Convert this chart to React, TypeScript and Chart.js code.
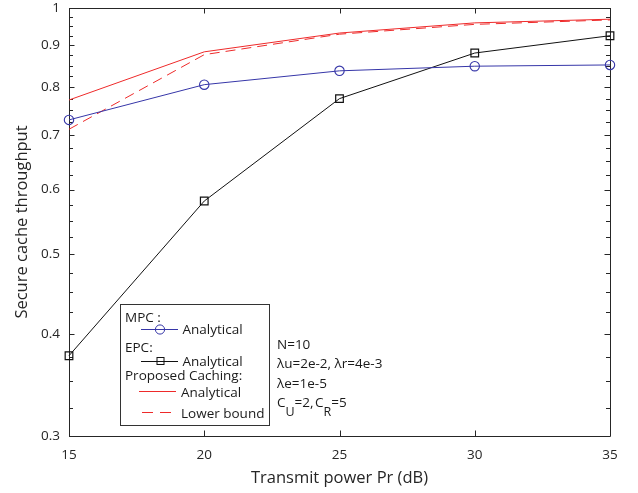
import React, { useEffect, useRef } from 'react';
import { Chart, registerables } from 'chart.js';

Chart.register(...registerables);

// ---- data ----
const powerDb = [15, 20, 25, 30, 35];
const mpcAnalytical = [0.73, 0.806, 0.838, 0.849, 0.852];
const epcAnalytical = [0.376, 0.581, 0.775, 0.881, 0.925];
const proposedAnalytical = [0.772, 0.884, 0.932, 0.959, 0.969];
const proposedLowerBound = [0.711, 0.877, 0.929, 0.955, 0.967];
const yTickValues = [0.3, 0.4, 0.5, 0.6, 0.7, 0.8, 0.9, 1];
const xTickValues = [15, 20, 25, 30, 35];
const annotationLines = ['N=10', 'λu=2e-2, λr=4e-3', 'λe=1e-5'];

const FONT = '"Open Sans", "Noto Sans", sans-serif';
const AXIS_COLOR = '#262626';
const BLUE = '#3636a8';
const BLACK = '#111111';
const RED = '#ee2a2a';

function yTicksWithMinor(): number[] {
  const out: number[] = [];
  for (let i = 0; i < yTickValues.length; i++) {
    out.push(yTickValues[i]);
    if (i < yTickValues.length - 1) {
      const a = yTickValues[i];
      const b = yTickValues[i + 1];
      for (let k = 1; k < 4; k++) out.push(a + ((b - a) * k) / 4);
    }
  }
  return out;
}

function isMajor(v: number): boolean {
  return yTickValues.some((t) => Math.abs(t - v) < 1e-9);
}

const frameAndTicks = {
  id: 'frameAndTicks',
  beforeDatasetsDraw(chart: any) {
    const { ctx, chartArea } = chart;
    const { left, right, top, bottom } = chartArea;
    const xs = chart.scales.x;
    const ys = chart.scales.y;
    ctx.save();
    ctx.strokeStyle = AXIS_COLOR;
    ctx.lineWidth = 1;
    ctx.beginPath();
    ctx.rect(Math.round(left) + 0.5, Math.round(top) + 0.5, Math.round(right - left), Math.round(bottom - top));
    ctx.stroke();
    ctx.beginPath();
    xTickValues.forEach((v) => {
      const x = Math.round(xs.getPixelForValue(v)) + 0.5;
      ctx.moveTo(x, bottom);
      ctx.lineTo(x, bottom - 5.5);
      ctx.moveTo(x, top);
      ctx.lineTo(x, top + 5.5);
    });
    ys.ticks.forEach((t: any) => {
      const y = Math.round(ys.getPixelForValue(t.value)) + 0.5;
      const len = isMajor(t.value) ? 5.5 : 4;
      ctx.moveTo(left, y);
      ctx.lineTo(left + len, y);
      ctx.moveTo(right, y);
      ctx.lineTo(right - len, y);
    });
    ctx.stroke();
    ctx.restore();
  },
  afterDraw(chart: any) {
    const { ctx } = chart;
    ctx.save();
    // legend box
    const bx = 120.5, by = 304.5, bw = 149, bh = 121;
    ctx.fillStyle = '#ffffff';
    ctx.fillRect(bx, by, bw, bh);
    ctx.strokeStyle = '#333333';
    ctx.lineWidth = 1;
    ctx.strokeRect(bx, by, bw, bh);

    ctx.font = `13.5px ${FONT}`;
    ctx.fillStyle = '#1a1a1a';
    ctx.textBaseline = 'alphabetic';
    ctx.textAlign = 'left';
    ctx.fillText('MPC :', 125, 321.7);
    ctx.fillText('Analytical', 182.5, 334);
    ctx.fillText('EPC:', 125, 352.3);
    ctx.fillText('Analytical', 182.5, 365.7);
    ctx.fillText('Proposed Caching:', 125, 380);
    ctx.fillText('Analytical', 181, 397.3);
    ctx.fillText('Lower bound', 181, 417.7);

    // legend samples
    ctx.lineWidth = 1;
    // MPC
    ctx.strokeStyle = BLUE;
    ctx.beginPath();
    ctx.moveTo(141, 329.5);
    ctx.lineTo(178, 329.5);
    ctx.stroke();
    ctx.beginPath();
    ctx.arc(160, 329.5, 4.6, 0, Math.PI * 2);
    ctx.stroke();
    // EPC
    ctx.strokeStyle = BLACK;
    ctx.beginPath();
    ctx.moveTo(141, 361.5);
    ctx.lineTo(178, 361.5);
    ctx.stroke();
    ctx.strokeRect(157, 357.5, 7, 7);
    // Proposed analytical
    ctx.strokeStyle = RED;
    ctx.beginPath();
    ctx.moveTo(139, 391.5);
    ctx.lineTo(176, 391.5);
    ctx.stroke();
    // Lower bound
    ctx.setLineDash([11, 7]);
    ctx.beginPath();
    ctx.moveTo(142, 412.5);
    ctx.lineTo(174, 412.5);
    ctx.stroke();
    ctx.setLineDash([]);

    // annotation text
    ctx.fillStyle = '#1a1a1a';
    ctx.font = `13.5px ${FONT}`;
    ctx.fillText(annotationLines[0], 277, 349);
    ctx.fillText(annotationLines[1], 277, 368.3);
    ctx.fillText(annotationLines[2], 277, 387.7);
    // C_U=2, C_R=5
    let x = 277;
    const base = 406.7;
    const part = (txt: string, size: number, dy: number) => {
      ctx.font = `${size}px ${FONT}`;
      ctx.fillText(txt, x, base + dy);
      x += ctx.measureText(txt).width;
    };
    part('C', 13.5, 0);
    part('U', 12.5, 9);
    part('=2, ', 13.5, 0);
    x -= 2;
    part('C', 13.5, 0);
    part('R', 12.5, 9);
    part('=5', 13.5, 0);
    ctx.restore();
  },
};

export default function App() {
  const canvasRef = useRef<HTMLCanvasElement | null>(null);

  useEffect(() => {
    const canvas = canvasRef.current;
    if (!canvas) return;
    const mk = (data: number[]) => powerDb.map((x, i) => ({ x, y: data[i] }));
    const chart = new Chart(canvas, {
      type: 'line',
      data: {
        datasets: [
          {
            label: 'MPC: Analytical',
            data: mk(mpcAnalytical),
            borderColor: BLUE,
            backgroundColor: 'transparent',
            borderWidth: 1,
            pointStyle: 'circle',
            pointRadius: 4.7,
            pointBorderWidth: 1.1,
            pointBorderColor: BLUE,
            pointBackgroundColor: 'transparent',
            clip: false as any,
          },
          {
            label: 'EPC: Analytical',
            data: mk(epcAnalytical),
            borderColor: BLACK,
            backgroundColor: 'transparent',
            borderWidth: 1,
            pointStyle: 'rect',
            pointRadius: 5.4,
            pointBorderWidth: 1.2,
            pointBorderColor: BLACK,
            pointBackgroundColor: 'transparent',
            clip: false as any,
          },
          {
            label: 'Proposed Caching: Analytical',
            data: mk(proposedAnalytical),
            borderColor: RED,
            borderWidth: 1,
            pointRadius: 0,
            clip: false as any,
          },
          {
            label: 'Proposed Caching: Lower bound',
            data: mk(proposedLowerBound),
            borderColor: RED,
            borderWidth: 1,
            borderDash: [10, 6],
            pointRadius: 0,
            clip: false as any,
          },
        ],
      },
      options: {
        animation: false,
        responsive: false,
        maintainAspectRatio: false,
        layout: { padding: { top: 8, right: 28, bottom: 0, left: 0 } },
        plugins: {
          legend: { display: false },
          tooltip: { enabled: false },
        },
        elements: { line: { tension: 0 } },
        scales: {
          x: {
            type: 'linear',
            min: 15,
            max: 35,
            afterBuildTicks: (scale: any) => {
              scale.ticks = xTickValues.map((v) => ({ value: v }));
            },
            afterFit: (scale: any) => {
              scale.height = 57;
              scale.paddingLeft = 0;
              scale.paddingRight = 0;
            },
            grid: { display: false, drawTicks: false },
            border: { display: false },
            ticks: {
              padding: 11,
              color: AXIS_COLOR,
              font: { family: FONT, size: 13.5 },
              maxRotation: 0,
              autoSkip: false,
            },
            title: {
              display: true,
              text: 'Transmit power Pr (dB)',
              color: AXIS_COLOR,
              font: { family: FONT, size: 16.5 },
              padding: { top: 0, bottom: 5 },
            },
          },
          y: {
            type: 'logarithmic',
            min: 0.3,
            max: 1,
            afterBuildTicks: (scale: any) => {
              scale.ticks = yTicksWithMinor().map((v) => ({ value: v }));
            },
            afterFit: (scale: any) => {
              scale.width = 69;
              scale.paddingTop = 0;
              scale.paddingBottom = 0;
            },
            grid: { display: false, drawTicks: false },
            border: { display: false },
            ticks: {
              padding: 9,
              color: AXIS_COLOR,
              font: { family: FONT, size: 13.5 },
              autoSkip: false,
              callback: (value: any) => {
                const v = Number(value);
                if (!isMajor(v)) return '';
                return v === 1 ? '1' : v.toFixed(1);
              },
            },
            title: {
              display: true,
              text: 'Secure cache throughput',
              color: AXIS_COLOR,
              font: { family: FONT, size: 16.5 },
              padding: { top: 12, bottom: 0 },
            },
          },
        },
      },
      plugins: [frameAndTicks],
    });
    return () => chart.destroy();
  }, []);

  return (
    <div style={{ position: 'fixed', left: 0, top: 0, width: 638, height: 493, background: '#fff' }}>
      <canvas ref={canvasRef} width={638} height={493} style={{ display: 'block', width: 638, height: 493 }} />
    </div>
  );
}
